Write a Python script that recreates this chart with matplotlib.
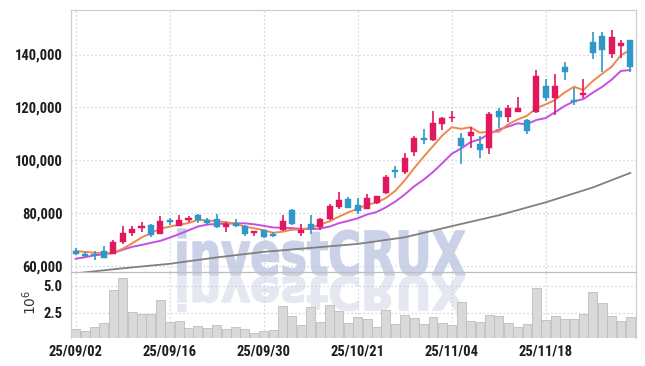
import matplotlib
matplotlib.use('Agg')
import matplotlib.pyplot as plt
import numpy as np
import pandas as pd
from matplotlib.textpath import TextPath
from matplotlib.patches import PathPatch
from matplotlib.font_manager import FontProperties, fontManager
from matplotlib.transforms import Affine2D
from matplotlib.ticker import FuncFormatter

# ---------------- data ----------------
opens = [65900, 64800, 64800, 65900, 64800, 69400, 72600, 74400, 75700, 72400,
         77400, 75400, 77400, 79400, 77400, 77900, 74900, 76400, 75400, 72600,
         73900, 72100, 73900, 81200, 72600, 75900, 74900, 77900, 82500, 85500,
         83200, 81700, 84000, 87700, 96300, 95800, 103100, 108600, 107600, 113900,
         115900, 108600, 109400, 106100, 104600, 118700, 116400, 118400, 115200, 118200,
         128000, 123500, 135300, 122700, 124700, 144900, 146900, 140100, 143300, 145600]
highs = [66900, 65400, 65900, 67900, 69900, 75200, 75200, 76900, 76200, 79200,
         78400, 79400, 79200, 79900, 78200, 79700, 76700, 77900, 75700, 73400,
         73900, 72900, 79400, 81500, 76200, 79400, 78400, 83700, 88000, 86200,
         86000, 87500, 86700, 94500, 98100, 102800, 109100, 111900, 118700, 116400,
         118700, 110400, 112600, 109100, 118200, 119700, 121000, 124000, 115700, 134000,
         130800, 132800, 137100, 127200, 130800, 148600, 148600, 149400, 145400, 145600]
lows = [64300, 63600, 62300, 63100, 64600, 68600, 71400, 73100, 71100, 72100,
        75700, 75200, 76900, 76400, 76200, 74400, 73100, 74900, 71600, 71600,
        70900, 71100, 73400, 75700, 71400, 72100, 73600, 77400, 81700, 82000,
        79900, 81500, 83700, 87200, 93500, 95000, 101800, 106100, 107400, 111400,
        114400, 98800, 104600, 101100, 102600, 112100, 114700, 118200, 110100, 117900,
        122500, 117200, 130500, 121000, 123700, 138300, 133300, 138600, 138600, 133500]
closes = [64800, 64100, 64300, 63300, 69100, 72600, 74200, 75200, 71900, 77200,
          76700, 77700, 78400, 77700, 76400, 74900, 76200, 75200, 72400, 73400,
          71100, 71400, 77200, 76200, 73900, 74200, 77900, 82700, 85200, 82200,
          80900, 85700, 86500, 93800, 95800, 100800, 108600, 107600, 114200, 115900,
          116400, 105600, 110600, 104100, 117400, 116400, 119700, 119700, 111100, 131800,
          123700, 128000, 133500, 122200, 125500, 140600, 141800, 146600, 144300, 135300]
volumes_m = [0.96, 0.78, 1.15, 1.52, 4.57, 5.69, 2.54, 2.35, 2.35, 3.65,
             1.61, 1.70, 1.06, 1.24, 1.06, 1.33, 0.96, 1.15, 0.96, 0.59,
             0.78, 0.87, 3.09, 2.17, 1.33, 3.00, 1.61, 3.19, 2.63, 1.52,
             2.07, 1.89, 1.15, 2.72, 1.43, 2.26, 1.98, 1.43, 2.07, 1.52,
             1.33, 3.46, 1.70, 1.61, 2.26, 2.17, 1.52, 1.15, 1.43, 4.76,
             1.80, 2.17, 1.89, 1.89, 2.35, 4.39, 3.37, 2.17, 1.70, 2.07]
# moving-average values before the visible window supplies enough closes
ma5_head = [65800, 65500, 65200, 65000]
ma10_head = [62900, 63500, 64200, 64600, 65100, 66300, 67400, 68100, 68900]
# long moving average at these bar positions
ma60_idx = [0, 5, 10, 15, 20, 25, 30, 35, 40, 45, 50, 55, 59]
ma60_val = [57400, 59300, 61000, 63400, 65500, 67000, 68500, 71000, 75200, 79300, 84200, 89800, 95300]

tick_pos = [0, 10, 20, 30, 40, 50]
tick_labels = ['25/09/02', '25/09/16', '25/09/30', '25/10/21', '25/11/04', '25/11/18']
price_ticks = [60000, 80000, 100000, 120000, 140000]
vol_ticks = [2.5, 5.0]

# ---------------- styling ----------------
RED = '#e2185f'
BLUE = '#2f98c9'
ORANGE = '#f0884e'
PURPLE = '#c64fe0'
GRAY = '#808080'
GRID = '#c5cadf'
SPINE = '#cfcfcf'
TXT = '#1e1e1e'

installed = {f.name for f in fontManager.ttflist}
narrow_candidates = ['DejaVu Sans Condensed', 'Liberation Sans Narrow', 'Roboto Condensed',
                     'Open Sans Condensed', 'Noto Sans Condensed']
narrow = [n for n in narrow_candidates if n in installed]
if narrow:
    tick_family = [narrow[0], 'DejaVu Sans']
    tick_size = 10.5
else:
    tick_family = ['Roboto', 'DejaVu Sans']
    tick_size = 9.5

W, H = 645, 366
fig = plt.figure(figsize=(W / 100, H / 100), dpi=100)
fig.patch.set_facecolor('white')


def box(x0, y0, x1, y1):
    return [x0 / W, 1 - y1 / H, (x1 - x0) / W, (y1 - y0) / H]


ax = fig.add_axes(box(71, 10, 635.5, 272))
axv = fig.add_axes(box(71, 272, 635.5, 338), sharex=ax)
for a in (ax, axv):
    a.set_facecolor('none')

# watermark (behind axes content)
fp = FontProperties(family='DejaVu Sans', weight='bold')
tp = TextPath((0, 0), 'investCRUX', size=100, prop=fp)
bb = tp.get_extents()
sx = (465 - 178) / bb.width
sy = 44 / 72.9
to_fig = Affine2D().scale(1 / W, 1 / H) + fig.transFigure
main_tr = Affine2D().translate(-bb.x0, 0).scale(sx, sy).translate(178, H - 275)
wm = PathPatch(main_tr.transform_path(tp), facecolor='#cbd2e8', edgecolor='#cbd2e8', lw=1.2,
               transform=to_fig, zorder=-2)
fig.add_artist(wm)
refl_tr = Affine2D().translate(-bb.x0, 0).scale(sx, -sy * 0.75).translate(178, H - 277)
wm2 = PathPatch(refl_tr.transform_path(tp), facecolor='#e6e8f1', edgecolor='#e6e8f1', lw=1.2,
                transform=to_fig, zorder=-2)
fig.add_artist(wm2)

x = np.arange(len(closes))

# moving averages
ma5 = pd.Series(closes, dtype=float).rolling(5).mean()
ma5.iloc[:len(ma5_head)] = ma5_head
ma10 = pd.Series(closes, dtype=float).rolling(10).mean()
ma10.iloc[:len(ma10_head)] = ma10_head
ax.plot(ma60_idx, ma60_val, color=GRAY, lw=1.3, zorder=2)
ax.plot(x, ma10.values, color=PURPLE, lw=1.4, zorder=2)
ax.plot(x, ma5.values, color=ORANGE, lw=1.4, zorder=2)

# candles
o = np.array(opens); c = np.array(closes); h = np.array(highs); l = np.array(lows)
cols = np.where(c >= o, RED, BLUE)
ax.vlines(x, l, h, colors=cols, lw=1.2, zorder=3)
body_lo = np.minimum(o, c)
body_h = np.maximum(np.abs(c - o), 350)
ax.bar(x, body_h, bottom=body_lo, width=0.64, color=cols, edgecolor=cols, lw=0.3, zorder=4)

# volume
axv.bar(x, volumes_m, width=0.94, color='#d9d9d9', edgecolor='#bdbdbd', lw=0.6, zorder=2)

# axes formatting
ax.set_xlim(-0.5, 59.55)
ax.set_ylim(57900, 156800)
axv.set_ylim(0.15, 6.27)
ax.set_yticks(price_ticks)
ax.yaxis.set_major_formatter(FuncFormatter(lambda v, p: f'{v:,.0f}'))
axv.set_yticks(vol_ticks)
axv.yaxis.set_major_formatter(FuncFormatter(lambda v, p: f'{v:.1f}'))
axv.set_xticks(tick_pos)
axv.set_xticklabels(tick_labels)
ax.tick_params(axis='x', labelbottom=False, length=0)
ax.tick_params(axis='y', length=0, pad=6, colors=TXT)
axv.tick_params(axis='x', length=0, pad=5, colors=TXT)
axv.tick_params(axis='y', length=0, pad=6, colors=TXT)
for a in (ax, axv):
    for lab in a.get_xticklabels() + a.get_yticklabels():
        lab.set_fontfamily(tick_family)
        lab.set_fontweight('bold')
        lab.set_fontsize(tick_size)
    a.grid(True, color=GRID, linestyle=(0, (1, 2.2)), lw=0.9, zorder=0)
    a.set_axisbelow(True)
    for s in a.spines.values():
        s.set_color(SPINE)
        s.set_linewidth(0.9)
ax.spines['bottom'].set_visible(False)
axv.spines['top'].set_color('#bdbdbd')
axv.spines['bottom'].set_visible(False)

fig.text(30 / W, 1 - 302 / H, r'$10^{6}$', rotation=90, ha='center', va='center',
         fontsize=10, color='#333333')

fig.savefig('out.png', dpi=100, facecolor='white')
